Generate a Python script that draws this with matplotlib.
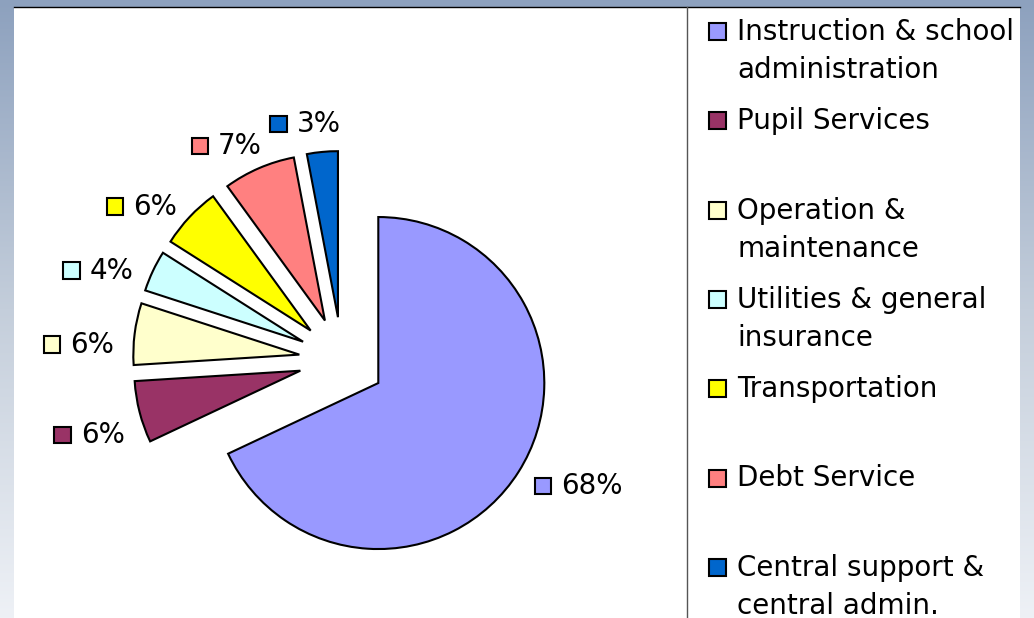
import numpy as np
import matplotlib.pyplot as plt
from matplotlib.patches import Rectangle
from matplotlib.colors import LinearSegmentedColormap
from matplotlib.offsetbox import AnnotationBbox, DrawingArea, TextArea, HPacker

# data
categories = ['Instruction & school\nadministration', 'Pupil Services',
              'Operation &\nmaintenance', 'Utilities & general\ninsurance',
              'Transportation', 'Debt Service', 'Central support &\ncentral admin.']
shares = [68, 6, 6, 4, 6, 7, 3]
colors = ['#9999ff', '#993366', '#ffffcc', '#ccffff', '#ffff00', '#ff8080', '#0066cc']

W, H = 1034, 618
plt.rcParams['font.family'] = ['DejaVu Sans']

fig = plt.figure(figsize=(W / 100, H / 100), dpi=100)
ax = fig.add_axes([0, 0, 1, 1])

# slide background gradient + white chart panel
bg = LinearSegmentedColormap.from_list('bg', ['#eef1f6', '#c4cedb', '#8da1be'])
ax.imshow(np.linspace(0, 1, 256).reshape(-1, 1), cmap=bg, origin='lower',
          extent=(0, W, 0, H), aspect='auto', zorder=0)
ax.add_patch(Rectangle((14, 0), 1006, H - 7, facecolor='white', edgecolor='none', zorder=1))
ax.plot([14, 1020], [H - 6.5, H - 6.5], color='black', lw=1, zorder=2)
ax.plot([687, 687], [0, H - 7], color='#555555', lw=1, zorder=2)

# pie (explode is in data units here, radius is 166)
wedges, _ = ax.pie(shares, colors=colors, startangle=90, counterclock=False,
                   explode=[43] * len(shares), radius=166, center=(342, H - 360),
                   wedgeprops=dict(edgecolor='black', linewidth=1.5, zorder=3))

# percentage labels with colour keys, the near edge of each label faces the slice
for w, pct, col in zip(wedges, shares, colors):
    mid = np.deg2rad((w.theta1 + w.theta2) / 2 + 3)
    cx, cy = w.center
    x = cx + 1.12 * w.r * np.cos(mid)
    y = cy + 1.12 * w.r * np.sin(mid) - 5
    da = DrawingArea(12, 12, 0, 0)
    da.add_artist(Rectangle((0, 0), 12, 12, facecolor=col, edgecolor='black', lw=1.5))
    ta = TextArea(f'{pct}%', textprops=dict(fontsize=20, color='black'))
    box = HPacker(children=[da, ta], align='baseline', pad=0, sep=7)
    align = (0.5 - 0.5 * np.cos(mid), 0.5 - 0.5 * np.sin(mid))
    ax.add_artist(AnnotationBbox(box, (x, y), frameon=False, box_alignment=align,
                                 pad=0, zorder=4))

# legend
for i, (lab, col) in enumerate(zip(categories, colors)):
    yb = H - (40 + 89.3 * i)
    ax.add_patch(Rectangle((709, yb), 17, 17, facecolor=col, edgecolor='black', lw=1.5, zorder=3))
    for j, line in enumerate(lab.split('\n')):
        ax.text(737, yb - 38 * j, line, fontsize=20, va='baseline', ha='left', zorder=3)

ax.set_xlim(0, W)
ax.set_ylim(0, H)
ax.set_aspect('auto')
ax.axis('off')

fig.savefig('out.png', dpi=100)
